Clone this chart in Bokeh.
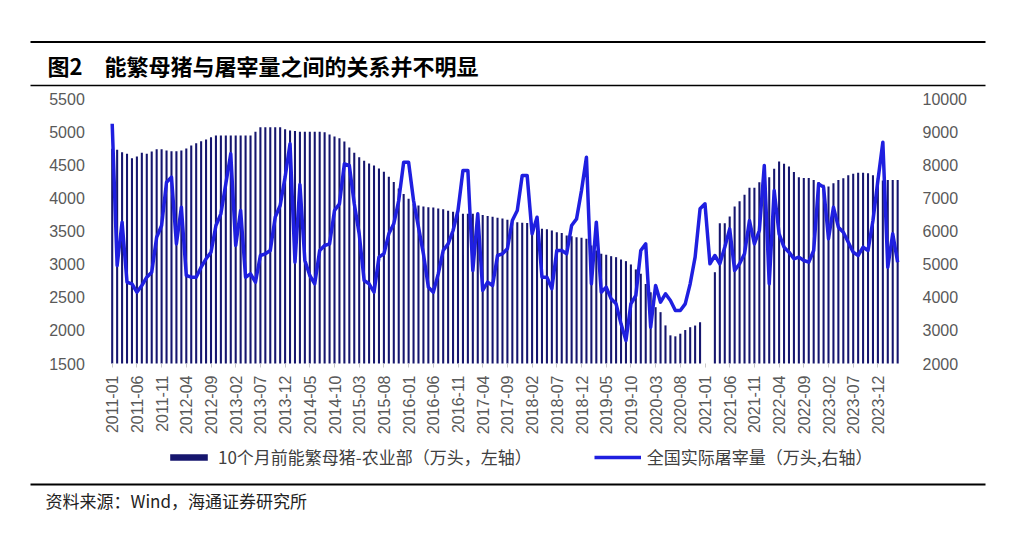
import numpy as np
import pandas as pd
from bokeh.plotting import figure
from bokeh.models import (Range1d, LinearAxis, FixedTicker, Legend, LegendItem,
                          ColumnDataSource, Label, BoxAnnotation)
from bokeh.embed import file_html
from bokeh.resources import INLINE

nan = float("nan")

# ---- data ----
months = [str(m) for m in pd.period_range("2011-01", periods=160, freq="M")]

sows = [  # 10个月前能繁母猪-农业部（万头，左轴）
    4740, 4726, 4690, 4665, 4600, 4625, 4680, 4665, 4700, 4735,
    4735, 4715, 4705, 4705, 4715, 4745, 4790, 4825, 4855, 4880,
    4915, 4940, 4940, 4940, 4940, 4940, 4940, 4940, 4940, 5000,
    5066, 5066, 5066, 5066, 5066, 5036, 5017, 5010, 5000, 5000,
    5000, 5000, 5000, 4990, 4957, 4926, 4900, 4850, 4760, 4680,
    4615, 4560, 4520, 4490, 4445, 4395, 4320, 4240, 4140, 4060,
    3985, 3910, 3885, 3870, 3860, 3855, 3840, 3830, 3805, 3790,
    3770, 3760, 3760, 3760, 3755, 3740, 3725, 3715, 3700, 3690,
    3670, 3660, 3633, 3625, 3620, 3583, 3557, 3533, 3525, 3508,
    3482, 3470, 3432, 3420, 3407, 3400, 3382, 3281, 3205, 3155,
    3140, 3120, 3105, 3070, 3045, 2995, 2920, 2855, 2700, 2575,
    2350, 2275, 2075, 1925, 1910, 1950, 2005, 2048, 2073, 2123,
    nan, nan, 2878, 3618, 3618, 3719, 3870, 3950, 4046, 4152,
    4152, 4237, 4275, 4312, 4440, 4550, 4515, 4475, 4390, 4312,
    4300, 4300, 4270, 4240, 4200, 4170, 4220, 4270, 4297, 4340,
    4365, 4380, 4380, 4370, 4340, 4300, 4262, 4270, 4270, 4270,
]

slaughter = [  # 全国实际屠宰量（万头,右轴）
    9236, 4958, 6266, 4454, 4406, 4152, 4355, 4605, 4756, 5813,
    6166, 7474, 7625, 5611, 6719, 4657, 4605, 4605, 4907, 5161,
    5360, 6166, 6519, 7424, 8330, 5562, 6619, 4605, 4707, 4454,
    5260, 5311, 5411, 6417, 6770, 7625, 8632, 5058, 7400, 5110,
    4657, 4406, 5411, 5562, 5611, 6619, 6820, 8028, 7977, 6820,
    5914, 4505, 4406, 4152, 5210, 5311, 5914, 6217, 6920, 8078,
    8078, 6920, 6116, 5311, 4305, 4152, 4707, 5411, 5611, 6015,
    6619, 7827, 7827, 4808, 6519, 4205, 4455, 4355, 5260, 5311,
    5462, 6317, 6619, 7675, 7675, 5914, 6417, 4605, 4605, 4255,
    5411, 5411, 5311, 6166, 6367, 7222, 8228, 4406, 6266, 4152,
    4305, 3952, 3801, 3198, 2694, 3801, 4053, 5411, 5611, 3096,
    4355, 3851, 4104, 3902, 3600, 3600, 3801, 4406, 5210, 6670,
    6820, 5010, 5260, 5010, 5511, 6065, 4808, 5010, 5311, 6317,
    5611, 6015, 7977, 4406, 7222, 5914, 5511, 5361, 5160, 5210,
    5110, 5058, 5411, 7424, 7323, 5764, 6719, 6116, 5964, 5662,
    5361, 5260, 5511, 5411, 6317, 7525, 8682, 4907, 5914, 5058,
]

x_tick_labels = [
    "2011-01", "2011-06", "2011-11", "2012-04", "2012-09", "2013-02", "2013-07", "2013-12",
    "2014-05", "2014-10", "2015-03", "2015-08", "2016-01", "2016-06", "2016-11", "2017-04",
    "2017-09", "2018-02", "2018-07", "2018-12", "2019-05", "2019-10", "2020-03", "2020-08",
    "2021-01", "2021-06", "2021-11", "2022-04", "2022-09", "2023-02", "2023-07", "2023-12",
]
left_ticks = [1500, 2000, 2500, 3000, 3500, 4000, 4500, 5000, 5500]
right_ticks = [2000, 3000, 4000, 5000, 6000, 7000, 8000, 9000, 10000]

title_text = "图2\u3000能繁母猪与屠宰量之间的关系并不明显"
source_text = "资料来源：Wind，海通证券研究所"
sows_label = "10个月前能繁母猪-农业部（万头，左轴）"
slaughter_label = "全国实际屠宰量（万头,右轴）"

BAR = "#16166e"
LINE = "#1f1fe0"
TICK = "#595959"
CJK = "Noto Sans CJK SC"
LAT = "Liberation Sans"

# ---- geometry of the chart area inside the 1024x540 canvas (pixels) ----
W, H = 1024, 540
PX_MONTH = 4.94          # pixels per month
X0_PX = 111.7            # pixel x of the first month
PLOT_LEFT, PLOT_RIGHT = 107.3, 903.0
PLOT_TOP, PLOT_BOTTOM = 98.0, 363.0

def px_to_x(px):
    return (px - X0_PX) / PX_MONTH

def y_range_for(lo, hi):
    per_px = (hi - lo) / (PLOT_BOTTOM - PLOT_TOP)
    return Range1d(lo - (H - PLOT_BOTTOM) * per_px, hi + PLOT_TOP * per_px)

# ---- figure (frame covers the whole canvas; axes sit at fixed locations) ----
xs = list(range(len(months)))
src = ColumnDataSource(dict(x=xs, sows=sows, sl=slaughter))

p = figure(width=W, height=H, x_range=Range1d(px_to_x(0), px_to_x(W)),
           y_range=y_range_for(left_ticks[0], left_ticks[-1]),
           output_backend="svg", toolbar_location=None, min_border=0,
           outline_line_color=None, background_fill_color="white", border_fill_color="white")
p.grid.visible = False
p.extra_y_ranges = {"right": y_range_for(right_ticks[0], right_ticks[-1])}

bars = p.vbar(x="x", top="sows", bottom=left_ticks[0], width=0.42, source=src,
              fill_color=BAR, line_color=None)
ln = p.line(x="x", y="sl", source=src, y_range_name="right", line_color=LINE,
            line_width=3.5, line_join="round")

p.add_layout(LinearAxis(y_range_name="right"), "right")

tick_pos = [months.index(l) for l in x_tick_labels]
xa = p.xaxis[0]
xa.fixed_location = left_ticks[0]
xa.ticker = FixedTicker(ticks=tick_pos)
xa.major_label_overrides = {pos: lab for pos, lab in zip(tick_pos, x_tick_labels)}
xa.major_label_orientation = np.pi / 2
xa.axis_line_color = None
xa.major_tick_line_color = "#c8c8c8"
xa.major_tick_in = 0
xa.major_tick_out = 4
xa.minor_tick_line_color = None
xa.major_label_standoff = 8
xa.major_label_text_font = LAT
xa.major_label_text_font_size = "16px"
xa.major_label_text_color = TICK

ly, ry = p.yaxis[0], p.yaxis[1]
ly.fixed_location = px_to_x(PLOT_LEFT)
ry.fixed_location = px_to_x(PLOT_RIGHT)
ly.ticker = FixedTicker(ticks=left_ticks)
ry.ticker = FixedTicker(ticks=right_ticks)
for ax, so in ((ly, 17), (ry, 13)):
    ax.axis_line_color = None
    ax.major_tick_line_color = None
    ax.minor_tick_line_color = None
    ax.major_label_standoff = so
    ax.major_label_text_font = LAT
    ax.major_label_text_font_size = "16px"
    ax.major_label_text_color = TICK

legend = Legend(items=[LegendItem(label=sows_label, renderers=[bars]),
                       LegendItem(label=slaughter_label, renderers=[ln])],
                orientation="horizontal", location=(165, 71),
                glyph_width=47, glyph_height=8, label_height=8, label_standoff=6,
                spacing=62, padding=0, margin=0,
                label_text_font=CJK, label_text_font_size="17px", label_text_color="#404040",
                border_line_color=None, background_fill_alpha=0)
p.add_layout(legend, "center")

# ---- header / footer decorations (screen units, y measured up from the bottom) ----
def rule(page_y, thick):
    p.add_layout(BoxAnnotation(left=30, right=985, top=H - page_y + thick / 2,
                               bottom=H - page_y - thick / 2,
                               left_units="screen", right_units="screen",
                               top_units="screen", bottom_units="screen",
                               fill_color="black", fill_alpha=1, line_color=None))

rule(41.5, 2)
rule(85, 1.5)
rule(484, 2)

p.add_layout(Label(x=47, y=H - 64, x_units="screen", y_units="screen", text=title_text,
                   text_baseline="middle", text_align="left", text_font=CJK,
                   text_font_style="bold", text_font_size="22px", text_color="black"))
p.add_layout(Label(x=45, y=H - 500, x_units="screen", y_units="screen", text=source_text,
                   text_baseline="middle", text_align="left", text_font=CJK,
                   text_font_size="17px", text_color="#222222"))

open("out.html", "w").write(file_html(p, INLINE))
